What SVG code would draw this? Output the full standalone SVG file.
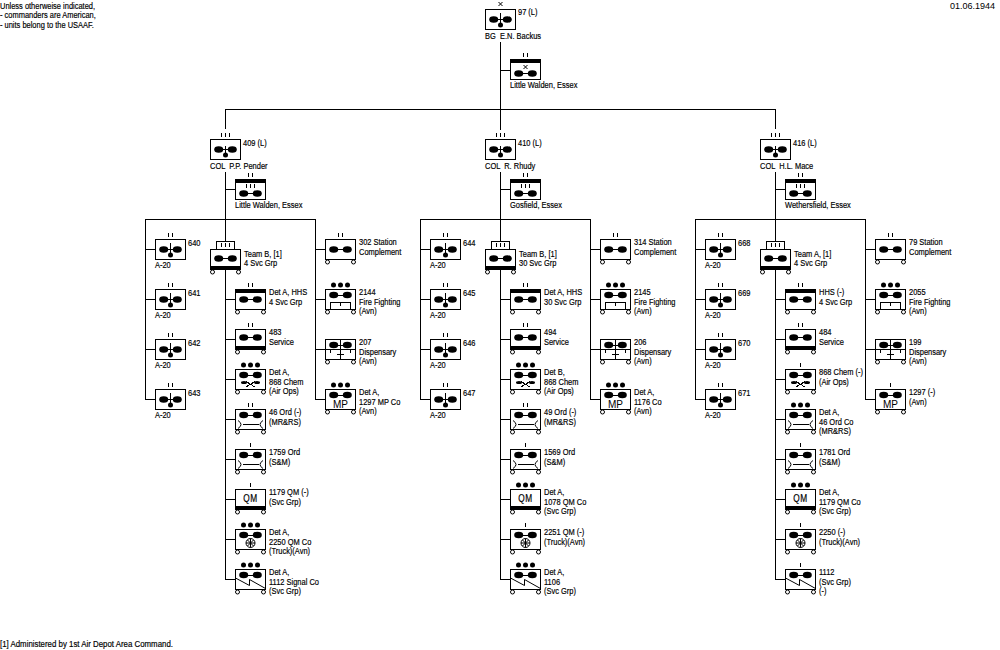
<svg xmlns="http://www.w3.org/2000/svg" width="1000" height="650" viewBox="0 0 1000 650">
<style>
text{font-family:"Liberation Sans",Arial,sans-serif;font-size:9px;fill:#000;stroke:#000;stroke-width:.18;transform-box:fill-box;transform-origin:0 50%;transform:scaleX(.83)}
text.plain{transform:none;stroke:none}
.b{fill:#fff;stroke:#000;stroke-width:1;shape-rendering:crispEdges}
.l{fill:none;stroke:#000;stroke-width:1;shape-rendering:crispEdges}
.s{fill:none;stroke:#000;stroke-width:1}
.f{fill:#000;stroke:none}
.w{fill:#fff;stroke:#000;stroke-width:1}
text.m{font-size:10px;text-anchor:middle;transform-origin:50% 50%}
#connectors path{fill:none;stroke:#000;stroke-width:1;shape-rendering:crispEdges}
</style>
<defs>
<rect id="box" class="b" x="0.5" y="0.5" width="30" height="20"/>
<g id="wheels"><circle class="w" cx="2.5" cy="23" r="2"/><circle class="w" cx="28.5" cy="23" r="2"/></g>
<path id="e1" class="l" d="M15.5,-6V-2"/>
<path id="e2" class="l" d="M13.5,-6V-2M17.5,-6V-2"/>
<path id="e3" class="l" d="M11.5,-6V-2M15.5,-6V-2M19.5,-6V-2"/>
<g id="dots"><circle class="f" cx="8.5" cy="-4" r="2.5"/><circle class="f" cx="15.5" cy="-4" r="2.5"/><circle class="f" cx="22.5" cy="-4" r="2.5"/></g>
<path id="ex" class="s" d="M13.5,-7L17.5,-3M17.5,-7L13.5,-3"/>
<g id="pm"><ellipse class="f" cx="8.7" cy="10.5" rx="4.5" ry="3.3"/><ellipse class="f" cx="22.3" cy="10.5" rx="4.5" ry="3.3"/><path class="l" d="M9,10.5H22"/></g>
<g id="pt"><ellipse class="f" cx="8.7" cy="6" rx="4.5" ry="3.3"/><ellipse class="f" cx="22.3" cy="6" rx="4.5" ry="3.3"/><path class="l" d="M9,6.5H22"/></g>
<g id="u-air"><use href="#box"/><use href="#pm"/><path class="l" d="M15.5,4V14"/><circle class="f" cx="15.5" cy="16" r="2.5"/></g>
<g id="u-grp"><use href="#box"/><use href="#pm"/><path class="l" d="M15.5,7V14"/><circle class="f" cx="15.5" cy="16" r="2.5"/></g>
<g id="u-base"><use href="#box"/><rect class="f" x="0" y="0" width="31" height="4"/><g transform="translate(0,4)"><use href="#pm"/></g></g>
<g id="u-team"><rect class="b" x="6.5" y="-7.5" width="18" height="8"/><use href="#e3"/><rect class="b" x="0.5" y="0.5" width="30" height="20"/><rect class="f" x="0" y="17" width="31" height="4"/><g transform="translate(0,-1)"><use href="#pm"/></g><use href="#wheels"/></g>
<g id="u-svc"><use href="#box"/><use href="#pm"/><use href="#wheels"/></g>
<g id="u-top"><use href="#box"/><rect class="f" x="0" y="0" width="31" height="4"/><use href="#pm"/><use href="#wheels"/></g>
<g id="u-bot"><use href="#box"/><rect class="f" x="0" y="17" width="31" height="4"/><g transform="translate(0,-2)"><use href="#pm"/></g><use href="#wheels"/></g>
<g id="u-fire"><use href="#box"/><use href="#pt"/><path class="l" d="M5.5,20V13.5H25.5V20M15.5,13.5V17"/><use href="#wheels"/></g>
<g id="u-disp"><use href="#box"/><use href="#pt"/><path class="l" d="M15.5,0V20M0,10.5H31M5.5,10.5V14M25.5,10.5V14M12,15.5H19"/><use href="#wheels"/></g>
<g id="u-mp"><use href="#box"/><use href="#pt"/><text class="m" x="15.5" y="18.5" style="transform:none;stroke:none">MP</text><use href="#wheels"/></g>
<g id="u-chem"><use href="#box"/><use href="#pt"/><path class="l" d="M11,12.5L20,18M20,12.5L11,18"/><ellipse class="f" cx="9" cy="13.5" rx="3" ry="1.5"/><ellipse class="f" cx="22" cy="13.5" rx="3" ry="1.5"/><use href="#wheels"/></g>
<g id="u-ord"><use href="#box"/><use href="#pt"/><path class="s" d="M3,11.5Q9,15.5 3,19.5M28,11.5Q22,15.5 28,19.5"/><path class="l" d="M7.5,15.5H23.5"/><use href="#wheels"/></g>
<g id="u-qm"><use href="#box"/><rect class="f" x="0" y="17" width="31" height="4"/><text class="m" x="15.5" y="13" style="letter-spacing:.8px">QM</text><use href="#wheels"/></g>
<g id="u-truck"><use href="#box"/><use href="#pt"/><circle class="w" cx="15.5" cy="14" r="4.5"/><path class="s" d="M11,14H20M15.5,9.5V18.5M12.5,11L18.5,17M18.5,11L12.5,17"/><use href="#wheels"/></g>
<g id="u-sig"><use href="#box"/><use href="#pt"/><path class="s" d="M0.5,9L14.5,16.5V10.5L30.5,19.5"/><use href="#wheels"/></g>
</defs>

<g id="connectors">
<path d="M500.5,42V130M500.5,70.5H510M225.5,129V109.5H775.5V129"/>
<path id="c-a" d="M225.5,172V241M225.5,270V579.5H235M225.5,189.5H235M145.5,399.5V219.5H315.5V399.5H325M145.5,249.5H155M145.5,299.5H155M145.5,349.5H155M145.5,399.5H155M225.5,299.5H235M225.5,339.5H235M225.5,379.5H235M225.5,419.5H235M225.5,459.5H235M225.5,499.5H235M225.5,539.5H235M315.5,249.5H325M315.5,299.5H325M315.5,349.5H325"/>
<path id="c-b" d="M500.5,172V241M500.5,270V579.5H510M500.5,189.5H510M420.5,399.5V219.5H590.5V399.5H600M420.5,249.5H430M420.5,299.5H430M420.5,349.5H430M420.5,399.5H430M500.5,299.5H510M500.5,339.5H510M500.5,379.5H510M500.5,419.5H510M500.5,459.5H510M500.5,499.5H510M500.5,539.5H510M590.5,249.5H600M590.5,299.5H600M590.5,349.5H600"/>
<path id="c-c" d="M775.5,172V241M775.5,270V579.5H785M775.5,189.5H785M695.5,399.5V219.5H865.5V399.5H875M695.5,249.5H705M695.5,299.5H705M695.5,349.5H705M695.5,399.5H705M775.5,299.5H785M775.5,339.5H785M775.5,379.5H785M775.5,419.5H785M775.5,459.5H785M775.5,499.5H785M775.5,539.5H785M865.5,249.5H875M865.5,299.5H875M865.5,349.5H875"/>
</g>

<text x="0" y="9">Unless otherweise indicated,</text>
<text x="0" y="18.5">- commanders are American,</text>
<text x="0" y="28">- units belong to the USAAF.</text>
<text class="plain" x="950" y="9">01.06.1944</text>
<text x="0" y="647" style="transform:scaleX(.875)">[1] Administered by 1st Air Depot Area Command.</text>

<g id="div97" transform="translate(485,9)"><use href="#u-air"/><use href="#ex"/><text x="33" y="6">97 (L)</text><text x="0" y="30" xml:space="preserve">BG  E.N. Backus</text></g>
<g id="div97-base" transform="translate(510,59)"><use href="#u-base"/><use href="#e2"/><path class="s" transform="translate(0,13)" d="M13.5,-7L17.5,-3M17.5,-7L13.5,-3"/><text x="0" y="29">Little Walden, Essex</text></g>

<!-- Group 409 -->
<g id="g409" transform="translate(210,139)"><use href="#u-grp"/><use href="#e3"/><text x="33" y="7">409 (L)</text><text x="0" y="30" xml:space="preserve">COL  P.P. Pender</text></g>
<g id="g409-base" transform="translate(235,179)"><use href="#u-base"/><use href="#e2"/><use href="#e3" transform="translate(0,11)"/><text x="0" y="29">Little Walden, Essex</text></g>
<g id="s640" transform="translate(155,239)"><use href="#u-air"/><use href="#e2"/><text x="33" y="7">640</text><text x="0" y="29">A-20</text></g>
<g id="s641" transform="translate(155,289)"><use href="#u-air"/><use href="#e2"/><text x="33" y="7">641</text><text x="0" y="29">A-20</text></g>
<g id="s642" transform="translate(155,339)"><use href="#u-air"/><use href="#e2"/><text x="33" y="7">642</text><text x="0" y="29">A-20</text></g>
<g id="s643" transform="translate(155,389)"><use href="#u-air"/><use href="#e2"/><text x="33" y="7">643</text><text x="0" y="29">A-20</text></g>
<g id="a-team" transform="translate(210,249)"><use href="#u-team"/><text x="34" y="8">Team B, [1]</text><text x="34" y="17">4 Svc Grp</text></g>
<g id="a-hhs" transform="translate(235,289)"><use href="#u-top"/><use href="#e2"/><text x="34" y="6">Det A, HHS</text><text x="34" y="16">4 Svc Grp</text></g>
<g id="a-svc" transform="translate(235,329)"><use href="#u-bot"/><use href="#e2"/><text x="34" y="6">483</text><text x="34" y="16">Service</text></g>
<g id="a-chem" transform="translate(235,369)"><use href="#u-chem"/><use href="#dots"/><text x="34" y="6">Det A,</text><text x="34" y="16">868 Chem</text><text x="34" y="25">(Air Ops)</text></g>
<g id="a-ord1" transform="translate(235,409)"><use href="#u-ord"/><use href="#e2"/><text x="34" y="6">46 Ord (-)</text><text x="34" y="16">(MR&amp;RS)</text></g>
<g id="a-ord2" transform="translate(235,449)"><use href="#u-ord"/><use href="#e1"/><text x="34" y="6">1759 Ord</text><text x="34" y="16">(S&amp;M)</text></g>
<g id="a-qm" transform="translate(235,489)"><use href="#u-qm"/><use href="#e1"/><text x="34" y="6">1179 QM (-)</text><text x="34" y="16">(Svc Grp)</text></g>
<g id="a-truck" transform="translate(235,529)"><use href="#u-truck"/><use href="#dots"/><text x="34" y="6">Det A,</text><text x="34" y="16">2250 QM Co</text><text x="34" y="25">(Truck)(Avn)</text></g>
<g id="a-sig" transform="translate(235,569)"><use href="#u-sig"/><use href="#dots"/><text x="34" y="6">Det A,</text><text x="34" y="16">1112 Signal Co</text><text x="34" y="25">(Svc Grp)</text></g>
<g id="a-stn" transform="translate(325,239)"><use href="#u-svc"/><use href="#e2"/><text x="34" y="6">302 Station</text><text x="34" y="16">Complement</text></g>
<g id="a-fire" transform="translate(325,289)"><use href="#u-fire"/><use href="#dots"/><text x="34" y="6">2144</text><text x="34" y="16">Fire Fighting</text><text x="34" y="25">(Avn)</text></g>
<g id="a-disp" transform="translate(325,339)"><use href="#u-disp"/><text x="34" y="6">207</text><text x="34" y="16">Dispensary</text><text x="34" y="25">(Avn)</text></g>
<g id="a-mp" transform="translate(325,389)"><use href="#u-mp"/><use href="#dots"/><text x="34" y="6">Det A,</text><text x="34" y="16">1297 MP Co</text><text x="34" y="25">(Avn)</text></g>

<!-- Group 410 -->
<g id="g410" transform="translate(485,139)"><use href="#u-grp"/><use href="#e3"/><text x="33" y="7">410 (L)</text><text x="0" y="30" xml:space="preserve">COL  R. Rhudy</text></g>
<g id="g410-base" transform="translate(510,179)"><use href="#u-base"/><use href="#e2"/><use href="#e3" transform="translate(0,11)"/><text x="0" y="29">Gosfield, Essex</text></g>
<g id="s644" transform="translate(430,239)"><use href="#u-air"/><use href="#e2"/><text x="33" y="7">644</text><text x="0" y="29">A-20</text></g>
<g id="s645" transform="translate(430,289)"><use href="#u-air"/><use href="#e2"/><text x="33" y="7">645</text><text x="0" y="29">A-20</text></g>
<g id="s646" transform="translate(430,339)"><use href="#u-air"/><use href="#e2"/><text x="33" y="7">646</text><text x="0" y="29">A-20</text></g>
<g id="s647" transform="translate(430,389)"><use href="#u-air"/><use href="#e2"/><text x="33" y="7">647</text><text x="0" y="29">A-20</text></g>
<g id="b-team" transform="translate(485,249)"><use href="#u-team"/><text x="34" y="8">Team B, [1]</text><text x="34" y="17">30 Svc Grp</text></g>
<g id="b-hhs" transform="translate(510,289)"><use href="#u-top"/><use href="#e2"/><text x="34" y="6">Det A, HHS</text><text x="34" y="16">30 Svc Grp</text></g>
<g id="b-svc" transform="translate(510,329)"><use href="#u-bot"/><use href="#e2"/><text x="34" y="6">494</text><text x="34" y="16">Service</text></g>
<g id="b-chem" transform="translate(510,369)"><use href="#u-chem"/><use href="#dots"/><text x="34" y="6">Det B,</text><text x="34" y="16">868 Chem</text><text x="34" y="25">(Air Ops)</text></g>
<g id="b-ord1" transform="translate(510,409)"><use href="#u-ord"/><use href="#e2"/><text x="34" y="6">49 Ord (-)</text><text x="34" y="16">(MR&amp;RS)</text></g>
<g id="b-ord2" transform="translate(510,449)"><use href="#u-ord"/><use href="#e1"/><text x="34" y="6">1569 Ord</text><text x="34" y="16">(S&amp;M)</text></g>
<g id="b-qm" transform="translate(510,489)"><use href="#u-qm"/><use href="#dots"/><text x="34" y="6">Det A,</text><text x="34" y="16">1078 QM Co</text><text x="34" y="25">(Svc Grp)</text></g>
<g id="b-truck" transform="translate(510,529)"><use href="#u-truck"/><use href="#e1"/><text x="34" y="6">2251 QM (-)</text><text x="34" y="16">(Truck)(Avn)</text></g>
<g id="b-sig" transform="translate(510,569)"><use href="#u-sig"/><use href="#dots"/><text x="34" y="6">Det A,</text><text x="34" y="16">1106</text><text x="34" y="25">(Svc Grp)</text></g>
<g id="b-stn" transform="translate(600,239)"><use href="#u-svc"/><use href="#e2"/><text x="34" y="6">314 Station</text><text x="34" y="16">Complement</text></g>
<g id="b-fire" transform="translate(600,289)"><use href="#u-fire"/><use href="#dots"/><text x="34" y="6">2145</text><text x="34" y="16">Fire Fighting</text><text x="34" y="25">(Avn)</text></g>
<g id="b-disp" transform="translate(600,339)"><use href="#u-disp"/><text x="34" y="6">206</text><text x="34" y="16">Dispensary</text><text x="34" y="25">(Avn)</text></g>
<g id="b-mp" transform="translate(600,389)"><use href="#u-mp"/><use href="#dots"/><text x="34" y="6">Det A,</text><text x="34" y="16">1176 Co</text><text x="34" y="25">(Avn)</text></g>

<!-- Group 416 -->
<g id="g416" transform="translate(760,139)"><use href="#u-grp"/><use href="#e3"/><text x="33" y="7">416 (L)</text><text x="0" y="30" xml:space="preserve">COL  H.L. Mace</text></g>
<g id="g416-base" transform="translate(785,179)"><use href="#u-base"/><use href="#e2"/><use href="#e3" transform="translate(0,11)"/><text x="0" y="29">Wethersfield, Essex</text></g>
<g id="s668" transform="translate(705,239)"><use href="#u-air"/><use href="#e2"/><text x="33" y="7">668</text><text x="0" y="29">A-20</text></g>
<g id="s669" transform="translate(705,289)"><use href="#u-air"/><use href="#e2"/><text x="33" y="7">669</text><text x="0" y="29">A-20</text></g>
<g id="s670" transform="translate(705,339)"><use href="#u-air"/><use href="#e2"/><text x="33" y="7">670</text><text x="0" y="29">A-20</text></g>
<g id="s671" transform="translate(705,389)"><use href="#u-air"/><use href="#e2"/><text x="33" y="7">671</text><text x="0" y="29">A-20</text></g>
<g id="c-team" transform="translate(760,249)"><use href="#u-team"/><text x="34" y="8">Team A, [1]</text><text x="34" y="17">4 Svc Grp</text></g>
<g id="c-hhs" transform="translate(785,289)"><use href="#u-top"/><use href="#e2"/><text x="34" y="6">HHS (-)</text><text x="34" y="16">4 Svc Grp</text></g>
<g id="c-svc" transform="translate(785,329)"><use href="#u-bot"/><use href="#e2"/><text x="34" y="6">484</text><text x="34" y="16">Service</text></g>
<g id="c-chem" transform="translate(785,369)"><use href="#u-chem"/><use href="#e1"/><text x="34" y="6">868 Chem (-)</text><text x="34" y="16">(Air Ops)</text></g>
<g id="c-ord1" transform="translate(785,409)"><use href="#u-ord"/><use href="#dots"/><text x="34" y="6">Det A,</text><text x="34" y="16">46 Ord Co</text><text x="34" y="25">(MR&amp;RS)</text></g>
<g id="c-ord2" transform="translate(785,449)"><use href="#u-ord"/><use href="#e1"/><text x="34" y="6">1781 Ord</text><text x="34" y="16">(S&amp;M)</text></g>
<g id="c-qm" transform="translate(785,489)"><use href="#u-qm"/><use href="#dots"/><text x="34" y="6">Det A,</text><text x="34" y="16">1179 QM Co</text><text x="34" y="25">(Svc Grp)</text></g>
<g id="c-truck" transform="translate(785,529)"><use href="#u-truck"/><use href="#e1"/><text x="34" y="6">2250 (-)</text><text x="34" y="16">(Truck)(Avn)</text></g>
<g id="c-sig" transform="translate(785,569)"><use href="#u-sig"/><use href="#e1"/><text x="34" y="6">1112</text><text x="34" y="16">(Svc Grp)</text><text x="34" y="25">(-)</text></g>
<g id="c-stn" transform="translate(875,239)"><use href="#u-svc"/><use href="#e2"/><text x="34" y="6">79 Station</text><text x="34" y="16">Complement</text></g>
<g id="c-fire" transform="translate(875,289)"><use href="#u-fire"/><use href="#dots"/><text x="34" y="6">2055</text><text x="34" y="16">Fire Fighting</text><text x="34" y="25">(Avn)</text></g>
<g id="c-disp" transform="translate(875,339)"><use href="#u-disp"/><text x="34" y="6">199</text><text x="34" y="16">Dispensary</text><text x="34" y="25">(Avn)</text></g>
<g id="c-mp" transform="translate(875,389)"><use href="#u-mp"/><use href="#e1"/><text x="34" y="6">1297 (-)</text><text x="34" y="16">(Avn)</text></g>
</svg>
